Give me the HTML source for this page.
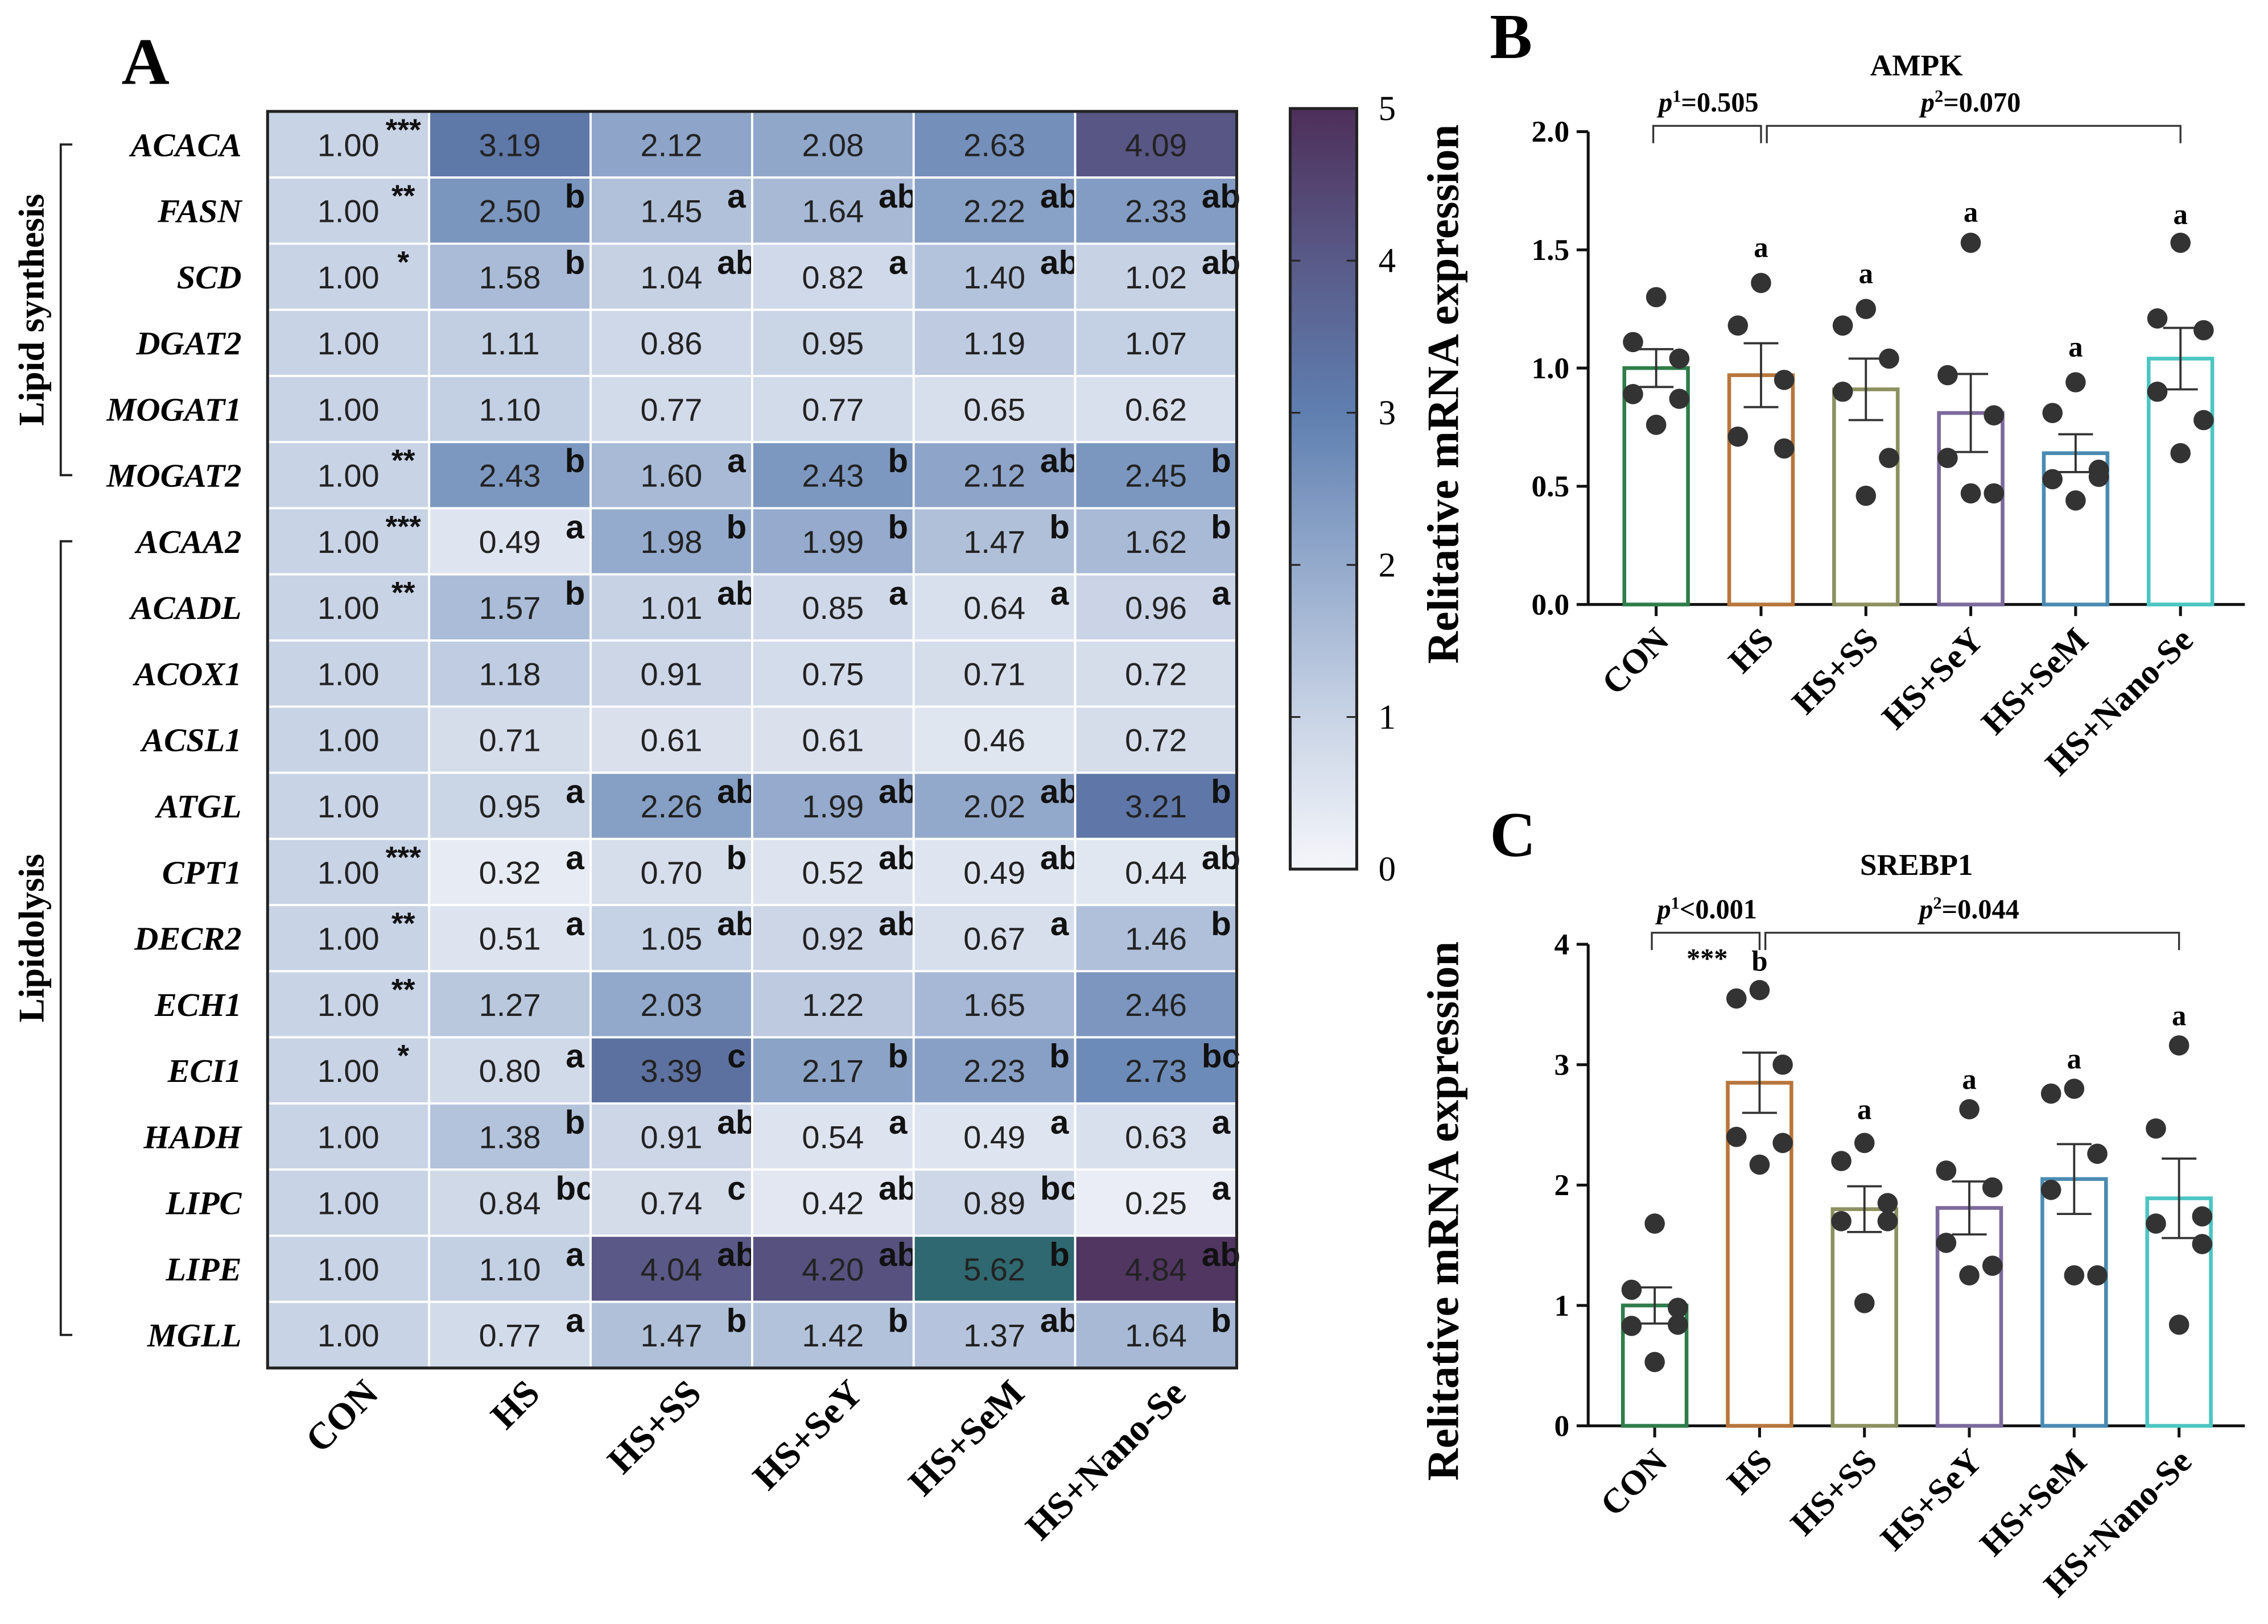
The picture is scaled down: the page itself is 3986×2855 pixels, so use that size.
<!DOCTYPE html>
<html><head><meta charset="utf-8"><style>
html,body{margin:0;padding:0;background:#fff}
svg{display:block}
.serif{font-family:"Liberation Serif",serif}
.sans{font-family:"Liberation Sans",sans-serif}
</style></head><body>
<svg id="fig" width="3986" height="2855" viewBox="0 0 1568 1123" xmlns="http://www.w3.org/2000/svg">
<defs>
<linearGradient id="cbar" x1="0" y1="1" x2="0" y2="0">
<stop offset="0" stop-color="#f5f6fa"/><stop offset="0.2" stop-color="#c8d3e5"/><stop offset="0.4" stop-color="#94aacc"/><stop offset="0.6" stop-color="#5f7fb0"/><stop offset="0.8" stop-color="#595a88"/><stop offset="1" stop-color="#4e2f5a"/>
</linearGradient>
</defs>
<g id="heat"></g>
<g id="chartB"></g>
<g id="chartC"></g>
</svg>
<script>
const NS="http://www.w3.org/2000/svg";
// ---- Heatmap data ----
const groups=["CON","HS","HS+SS","HS+SeY","HS+SeM","HS+Nano-Se"];
const genes=["ACACA","FASN","SCD","DGAT2","MOGAT1","MOGAT2","ACAA2","ACADL","ACOX1","ACSL1","ATGL","CPT1","DECR2","ECH1","ECI1","HADH","LIPC","LIPE","MGLL"];
const heatValues=[
[1.00,3.19,2.12,2.08,2.63,4.09],
[1.00,2.50,1.45,1.64,2.22,2.33],
[1.00,1.58,1.04,0.82,1.40,1.02],
[1.00,1.11,0.86,0.95,1.19,1.07],
[1.00,1.10,0.77,0.77,0.65,0.62],
[1.00,2.43,1.60,2.43,2.12,2.45],
[1.00,0.49,1.98,1.99,1.47,1.62],
[1.00,1.57,1.01,0.85,0.64,0.96],
[1.00,1.18,0.91,0.75,0.71,0.72],
[1.00,0.71,0.61,0.61,0.46,0.72],
[1.00,0.95,2.26,1.99,2.02,3.21],
[1.00,0.32,0.70,0.52,0.49,0.44],
[1.00,0.51,1.05,0.92,0.67,1.46],
[1.00,1.27,2.03,1.22,1.65,2.46],
[1.00,0.80,3.39,2.17,2.23,2.73],
[1.00,1.38,0.91,0.54,0.49,0.63],
[1.00,0.84,0.74,0.42,0.89,0.25],
[1.00,1.10,4.04,4.20,5.62,4.84],
[1.00,0.77,1.47,1.42,1.37,1.64]];
const heatLetters=[
["***","","","","",""],
["**","b","a","ab","ab","ab"],
["*","b","ab","a","ab","ab"],
["","","","","",""],
["","","","","",""],
["**","b","a","b","ab","b"],
["***","a","b","b","b","b"],
["**","b","ab","a","a","a"],
["","","","","",""],
["","","","","",""],
["","a","ab","ab","ab","b"],
["***","a","b","ab","ab","ab"],
["**","a","ab","ab","a","b"],
["**","","","","",""],
["*","a","c","b","b","bc"],
["","b","ab","a","a","a"],
["","bc","c","ab","bc","a"],
["","a","ab","ab","b","ab"],
["","a","b","b","ab","b"]];
const cbarTicks=[0,1,2,3,4,5];
// ---- Bar chart data ----
const ampkPoints=[[1.30,1.11,1.04,0.89,0.87,0.76],[1.36,1.18,0.95,0.71,0.66],[1.25,1.18,1.04,0.90,0.62,0.46],[1.53,0.97,0.80,0.62,0.47,0.47],[0.94,0.81,0.57,0.53,0.54,0.44],[1.53,1.21,1.16,0.90,0.78,0.64]];
const ampkMeans=[1.00,0.97,0.91,0.81,0.64,1.04];
const ampkSem=[0.08,0.135,0.13,0.165,0.08,0.13];
const ampkLetters=["","a","a","a","a","a"];
const ampkLetterY=[0,1.47,1.36,1.62,1.05,1.61];
const ampkTicks=["0.0","0.5","1.0","1.5","2.0"];
const srebPoints=[[1.68,1.13,0.98,0.83,0.84,0.53],[3.62,3.55,3.00,2.40,2.35,2.17],[2.35,2.20,1.85,1.70,1.70,1.02],[2.63,2.12,1.98,1.52,1.33,1.25],[2.80,2.76,2.26,1.96,1.25,1.25],[3.16,2.47,1.74,1.68,1.51,0.84]];
const srebMeans=[1.00,2.85,1.80,1.81,2.05,1.89];
const srebSem=[0.15,0.25,0.19,0.22,0.29,0.33];
const srebLetters=["","b","a","a","a","a"];
const srebLetterY=[0,3.78,2.55,2.8,2.97,3.33];
const srebTicks=["0","1","2","3","4"];

function el(parent,tag,attrs,text){const e=document.createElementNS(NS,tag);for(const k in attrs)e.setAttribute(k,attrs[k]);if(text!==undefined)e.textContent=text;parent.appendChild(e);return e;}
function hex(c){return [parseInt(c.slice(1,3),16),parseInt(c.slice(3,5),16),parseInt(c.slice(5,7),16)];}
const stops=["#f5f6fa","#c8d3e5","#94aacc","#5f7fb0","#595a88","#4e2f5a"].map(hex);
function colorOf(v){if(v>5)return "#2f6870";const i=Math.min(4,Math.floor(v));const t=v-i;const a=stops[i],b=stops[i+1];return "rgb("+a.map((x,k)=>Math.round(x+(b[k]-x)*t)).join(",")+")";}

// ---- Heatmap ----
const H=document.getElementById('heat');
const hx0=185,hx1=855,hy0=77,hy1=946;
const cw=(hx1-hx0)/groups.length, ch=(hy1-hy0)/genes.length;
const colX=i=>hx0+i*cw, rowY=j=>hy0+j*ch;
let t=el(H,'text',{x:84,y:58,'font-size':46,'font-weight':'bold',class:'serif'},'A');

genes.forEach((g,j)=>{
  heatValues[j].forEach((v,i)=>{
    const r=el(H,'rect',{x:colX(i),y:rowY(j),width:cw,height:ch,fill:colorOf(v),stroke:'#fff','stroke-width':1.5});
    
    const cx=colX(i)+cw/2, cy=rowY(j)+ch/2;
    const tv=el(H,'text',{x:cx,y:cy+8,'font-size':22,'text-anchor':'middle',fill:'#222',class:'sans'},v.toFixed(2));
    
    const L=heatLetters[j][i];
    if(L){const tl=el(H,'text',{x:cx+(i===0?38:45),y:cy-(i===0?3:2),'font-size':i===0?21:23,'font-weight':'bold','text-anchor':'middle',fill:'#111',class:'sans'},L);
      }
  });
  const gl=el(H,'text',{x:167,y:rowY(j)+ch/2+8,'font-size':23,'font-weight':'bold','font-style':'italic','text-anchor':'end',class:'serif'},g);
  
});
el(H,'rect',{x:hx0,y:hy0,width:hx1-hx0,height:hy1-hy0,fill:'none',stroke:'#222','stroke-width':2});
groups.forEach((g,i)=>{
  const cx=colX(i)+cw/2+22;
  const xl=el(H,'text',{x:cx,y:965,'font-size':26,'font-weight':'bold','text-anchor':'end',class:'serif',transform:`rotate(-45 ${cx} 965)`},g);
  
});
el(H,'path',{d:`M50 ${rowY(0)+ch/2} H42 V${rowY(5)+ch/2} H50`,fill:'none',stroke:'#222','stroke-width':1.5});
el(H,'path',{d:`M50 ${rowY(6)+ch/2} H42 V${rowY(18)+ch/2} H50`,fill:'none',stroke:'#222','stroke-width':1.5});
let ls=el(H,'text',{x:30,y:(rowY(0)+rowY(5)+ch)/2,'font-size':25,'font-weight':'bold','text-anchor':'middle',class:'serif',transform:`rotate(-90 30 ${(rowY(0)+rowY(5)+ch)/2})`},'Lipid synthesis');

let ll=el(H,'text',{x:30,y:(rowY(6)+rowY(18)+ch)/2,'font-size':25,'font-weight':'bold','text-anchor':'middle',class:'serif',transform:`rotate(-90 30 ${(rowY(6)+rowY(18)+ch)/2})`},'Lipidolysis');

const cb0=601,cb1=75,cbx=892,cbw=46;
const cby=v=>cb0-(v/5)*(cb0-cb1);
const cbr=el(H,'rect',{x:cbx,y:cb1,width:cbw,height:cb0-cb1,fill:'url(#cbar)',stroke:'#222','stroke-width':2});

cbarTicks.forEach(v=>{
  if(v>0&&v<5){el(H,'line',{x1:cbx,x2:cbx+7,y1:cby(v),y2:cby(v),stroke:'#222','stroke-width':1.2});el(H,'line',{x1:cbx+cbw-7,x2:cbx+cbw,y1:cby(v),y2:cby(v),stroke:'#222','stroke-width':1.2});}
  const tk=el(H,'text',{x:959,y:cby(v)+8,'font-size':24,'text-anchor':'middle',class:'serif'},String(v));
  
});

// ---- Bar charts ----
const barColors=["#2f7d4c","#b8763c","#8c9160","#7c6a9c","#4a8bb2","#4cc6c2"];
const jitter=[0,-16,16,-16,16,0];
function barChart(G,o){
  const y=v=>o.y0-(v/o.max)*(o.y0-o.yTop);
  const xc=i=>o.xStart+i*72.5;
  el(G,'text',{x:1030,y:o.labelY,'font-size':44,'font-weight':'bold',class:'serif'},o.panel);
  const ti=el(G,'text',{x:1325,y:o.titleY,'font-size':21,'font-weight':'bold','text-anchor':'middle',class:'serif'},o.title);
  
  const yt=el(G,'text',{x:1008,y:(o.y0+o.yTop)/2+18,'font-size':31,'font-weight':'bold','text-anchor':'middle',class:'serif',transform:`rotate(-90 1008 ${(o.y0+o.yTop)/2+18})`},'Relitative mRNA expression');
  
  el(G,'line',{x1:1098,x2:1098,y1:o.yTop,y2:o.y0,stroke:'#111','stroke-width':2});
  el(G,'line',{x1:1098,x2:1552,y1:o.y0,y2:o.y0,stroke:'#111','stroke-width':2});
  o.ticks.forEach(s=>{const v=parseFloat(s);el(G,'line',{x1:1090,x2:1098,y1:y(v),y2:y(v),stroke:'#111','stroke-width':2});
    const tl=el(G,'text',{x:1085,y:y(v)+7,'font-size':21,'font-weight':'bold','text-anchor':'end',class:'serif'},s);
    });
  groups.forEach((g,i)=>{
    const cx=xc(i);
    el(G,'line',{x1:cx,x2:cx,y1:o.y0,y2:o.y0+8,stroke:'#111','stroke-width':2});
    const xl=el(G,'text',{x:cx+10,y:o.y0+26,'font-size':24,'font-weight':'bold','text-anchor':'end',class:'serif',transform:`rotate(-45 ${cx+10} ${o.y0+26})`},g);
    
    const b=el(G,'rect',{x:cx-22,y:y(o.means[i]),width:44,height:o.y0-y(o.means[i]),fill:'none',stroke:barColors[i],'stroke-width':2.6});
    
    o.points[i].forEach((p,k)=>{const c=el(G,'circle',{cx:cx+jitter[k],cy:y(p),r:7,fill:'#333'});
      });
    const hi=y(o.means[i]+o.sem[i]),lo=y(o.means[i]-o.sem[i]);
    el(G,'path',{d:`M${cx} ${hi} V${lo} M${cx-12} ${hi} H${cx+12} M${cx-12} ${lo} H${cx+12}`,stroke:'#333','stroke-width':1.5,fill:'none'});
    if(o.letters[i]){const l=el(G,'text',{x:cx,y:y(o.letterY[i]),'font-size':20,'font-weight':'bold','text-anchor':'middle',class:'serif'},o.letters[i]);
      }
  });
  const by=o.brY;
  el(G,'path',{d:`M${xc(0)-2} ${by+12} V${by} H${xc(1)} V${by+12}`,fill:'none',stroke:'#333','stroke-width':1.3});
  el(G,'path',{d:`M${xc(1)+4} ${by+12} V${by} H${xc(5)} V${by+12}`,fill:'none',stroke:'#333','stroke-width':1.3});
  const p1=el(G,'text',{x:(xc(0)+xc(1))/2,y:by-10,'font-size':19,'font-weight':'bold','text-anchor':'middle',class:'serif'});
  el(p1,'tspan',{'font-style':'italic'},'p');el(p1,'tspan',{'baseline-shift':'super','font-size':12},'1');el(p1,'tspan',{},o.p1);
  
  const p2=el(G,'text',{x:(xc(1)+xc(5))/2,y:by-10,'font-size':19,'font-weight':'bold','text-anchor':'middle',class:'serif'});
  el(p2,'tspan',{'font-style':'italic'},'p');el(p2,'tspan',{'baseline-shift':'super','font-size':12},'2');el(p2,'tspan',{},o.p2);
  
  if(o.stars){const s=el(G,'text',{x:(xc(0)+xc(1))/2,y:by+24,'font-size':19,'font-weight':'bold','text-anchor':'middle',class:'serif'},o.stars);}
}
barChart(document.getElementById('chartB'),{panel:'B',labelY:40,title:'AMPK',titleY:52,y0:418,yTop:91,max:2,ticks:ampkTicks,means:ampkMeans,sem:ampkSem,points:ampkPoints,letters:ampkLetters,letterY:ampkLetterY,brY:87,p1:'=0.505',p2:'=0.070',xStart:1145});
barChart(document.getElementById('chartC'),{panel:'C',labelY:592,title:'SREBP1',titleY:605,y0:986,yTop:653,max:4,ticks:srebTicks,means:srebMeans,sem:srebSem,points:srebPoints,letters:srebLetters,letterY:srebLetterY,brY:645,p1:'<0.001',p2:'=0.044',xStart:1144,stars:'***'});
</script>
</body></html>
